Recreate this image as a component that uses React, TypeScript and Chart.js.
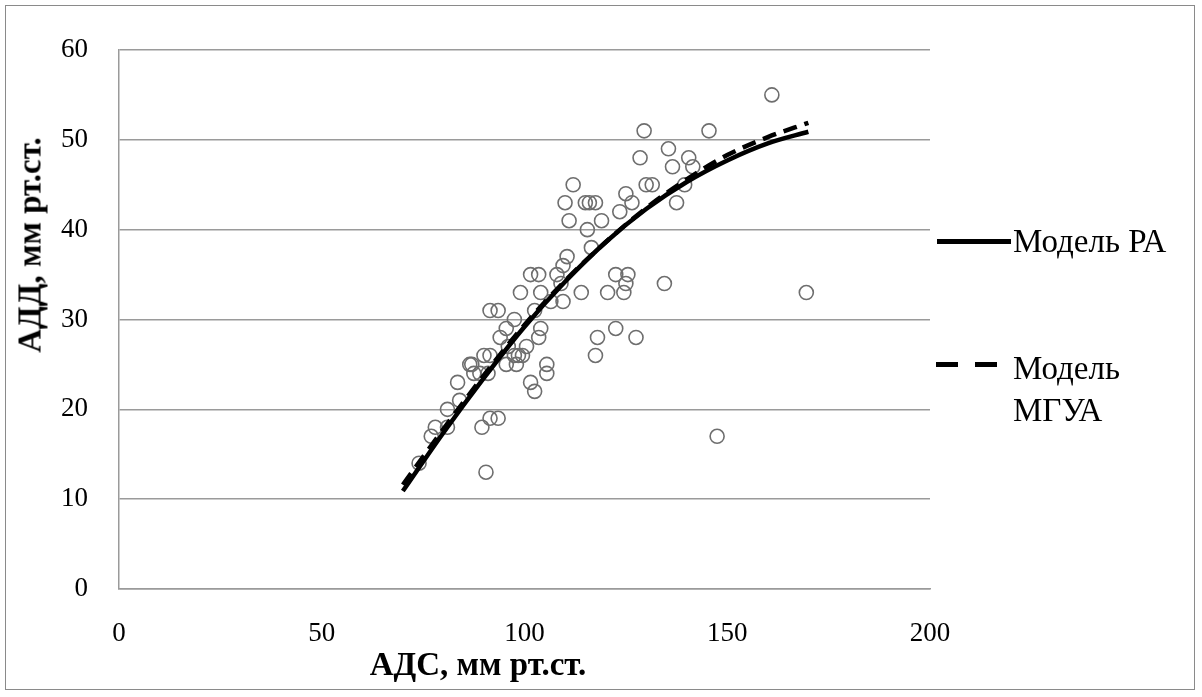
import React, { useEffect, useRef } from "react";
import { Chart, registerables } from "chart.js";

Chart.register(...registerables);

// Observed data (АДС, АДД)
const obsX = [161, 129.5, 145.5, 135.5, 128.5, 140.5, 136.5, 141.5, 130, 131.5, 139.5, 112, 137.5, 110, 115, 116, 117.5, 125, 126.5, 111, 119, 123.5, 115.5, 116.5, 110.5, 109.5, 108, 101.5, 103.5, 122.5, 125.5, 109, 125, 134.5, 104, 99, 114, 120.5, 124.5, 109.5, 106.5, 102.5, 91.5, 93.5, 97.5, 95.5, 104, 122.5, 94, 103.5, 118, 127.5, 100.5, 96, 97.5, 98.5, 90, 91.5, 117.5, 99.5, 95.5, 98, 86.5, 87, 105.5, 87.5, 89, 91, 105.5, 83.5, 101.5, 102.5, 84, 81, 78, 81, 89.5, 91.5, 93.5, 77, 74, 90.5, 147.5, 169.5];
const obsY = [55, 51, 51, 49, 48, 48, 47, 47, 45, 45, 45, 45, 43, 43, 43, 43, 43, 44, 43, 41, 41, 42, 40, 38, 37, 36, 35, 35, 35, 35, 35, 34, 34, 34, 33, 33, 33, 33, 33, 32, 32, 31, 31, 31, 30, 29, 29, 29, 28, 28, 28, 28, 27, 27, 26, 26, 26, 26, 26, 26, 25, 25, 25, 25, 25, 24, 24, 24, 24, 23, 23, 22, 21, 20, 18, 18, 18, 19, 19, 17, 14, 13, 17, 33];

// Model curves
const modelX = [70, 80, 90, 100, 110, 120, 130, 140, 150, 160, 170];
const modelRA = [10.9, 17.4, 23.5, 29.2, 34.2, 38.6, 42.3, 45.3, 47.7, 49.6, 50.9];
const modelMGUA = [11.6, 17.8, 23.8, 29.4, 34.3, 38.6, 42.4, 45.6, 48.3, 50.3, 51.9];

const xTicks = [0, 50, 100, 150, 200];
const yTicks = [0, 10, 20, 30, 40, 50, 60];

const legendRA = "Модель РА";
const legendMGUA = ["Модель", "МГУА"];
const xTitle = "АДС, мм рт.ст.";
const yTitle = "АДД, мм рт.ст.";

const SERIF = "'Liberation Serif', 'Times New Roman', serif";

export default function App() {
  const ref = useRef<HTMLCanvasElement | null>(null);

  useEffect(() => {
    document.body.style.margin = "0";
    const canvas = ref.current;
    if (!canvas) return;
    const chart = new Chart(canvas, {
      type: "scatter",
      data: {
        datasets: [
          {
            label: "obs",
            data: obsX.map((x, i) => ({ x, y: obsY[i] })),
            pointRadius: 7,
            pointHoverRadius: 7,
            pointBorderWidth: 1.6,
            pointBorderColor: "#6e6e6e",
            pointBackgroundColor: "rgba(0,0,0,0)",
            showLine: false,
            order: 3,
          },
          {
            label: legendRA,
            type: "line",
            data: modelX.map((x, i) => ({ x, y: modelRA[i] })),
            borderColor: "#000",
            borderWidth: 4.5,
            pointRadius: 0,
            cubicInterpolationMode: "monotone",
            fill: false,
            order: 1,
          },
          {
            label: "МГУА",
            type: "line",
            data: modelX.map((x, i) => ({ x, y: modelMGUA[i] })),
            borderColor: "#000",
            borderWidth: 4.5,
            borderDash: [14, 8],
            pointRadius: 0,
            cubicInterpolationMode: "monotone",
            fill: false,
            order: 2,
          },
        ],
      },
      options: {
        animation: false,
        responsive: false,
        maintainAspectRatio: false,
        layout: { padding: { top: 50, right: 272, left: 0, bottom: 0 } },
        plugins: { legend: { display: false }, tooltip: { enabled: false } },
        scales: {
          x: {
            type: "linear",
            min: 0,
            max: 200,
            afterBuildTicks: (s: any) => {
              s.ticks = xTicks.map((v) => ({ value: v }));
            },
            afterFit: (s: any) => {
              s.height = 697 - 589;
            },
            grid: { display: false, drawTicks: false },
            border: { display: true, color: "#9a9a9a", width: 1.5 },
            ticks: {
              padding: 29,
              color: "#000",
              font: { family: SERIF, size: 27 },
              maxRotation: 0,
            },
          },
          y: {
            type: "linear",
            min: 0,
            max: 60,
            afterBuildTicks: (s: any) => {
              s.ticks = yTicks.map((v) => ({ value: v }));
            },
            afterFit: (s: any) => {
              s.width = 119;
            },
            grid: { color: "#9a9a9a", lineWidth: 1.5, drawTicks: false },
            border: { display: true, color: "#9a9a9a", width: 1.5 },
            ticks: {
              padding: 31,
              color: "#000",
              font: { family: SERIF, size: 27 },
            },
          },
        },
      },
    });
    return () => chart.destroy();
  }, []);

  const textStyle: React.CSSProperties = {
    position: "absolute",
    fontFamily: SERIF,
    color: "#000",
    whiteSpace: "nowrap",
    lineHeight: 1,
  };

  return (
    <div style={{ position: "relative", width: 1202, height: 697, background: "#fff", overflow: "hidden" }}>
      <div
        style={{
          position: "absolute",
          left: 5,
          top: 5,
          width: 1190,
          height: 685,
          border: "1.5px solid #8a8a8a",
          boxSizing: "border-box",
        }}
      />
      <canvas ref={ref} width={1202} height={697} style={{ position: "absolute", left: 0, top: 0 }} />
      {/* axis titles */}
      <div style={{ ...textStyle, left: 478, top: 664, transform: "translate(-50%, -50%)", fontWeight: "bold", fontSize: 33 }}>
        {xTitle}
      </div>
      <div
        style={{
          ...textStyle,
          left: 30,
          top: 245,
          transform: "translate(-50%, -50%) rotate(-90deg)",
          fontWeight: "bold",
          fontSize: 33,
        }}
      >
        {yTitle}
      </div>
      {/* legend */}
      <div style={{ position: "absolute", left: 937, top: 239, width: 74, height: 4.5, background: "#000" }} />
      <div style={{ ...textStyle, left: 1013, top: 241, transform: "translateY(-50%)", fontSize: 33 }}>{legendRA}</div>
      <div style={{ position: "absolute", left: 936, top: 362, width: 22, height: 4.5, background: "#000" }} />
      <div style={{ position: "absolute", left: 975, top: 362, width: 22, height: 4.5, background: "#000" }} />
      <div style={{ ...textStyle, left: 1013, top: 347, fontSize: 33, lineHeight: "42px" }}>
        {legendMGUA[0]}
        <br />
        {legendMGUA[1]}
      </div>
    </div>
  );
}
